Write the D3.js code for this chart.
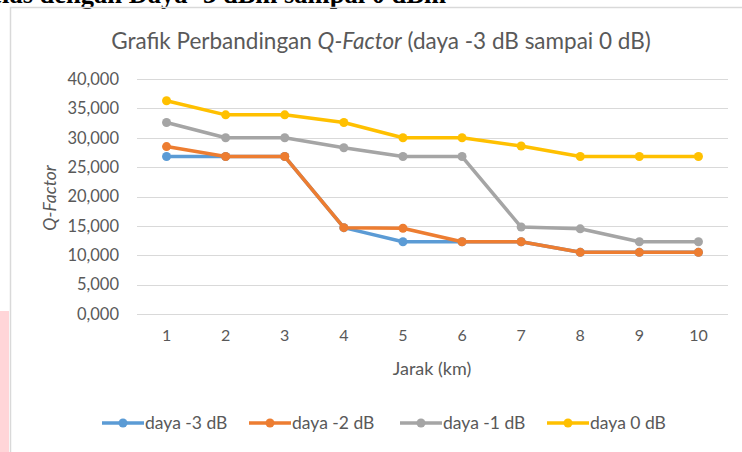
<!DOCTYPE html>
<html>
<head>
<meta charset="utf-8">
<script src="https://cdn.jsdelivr.net/npm/d3@7"></script>
<style>
  html, body { margin: 0; padding: 0; background: #fff; }
  svg { display: block; }
</style>
</head>
<body>
<div id="chart"></div>
<script>
// data
const jarak = [1, 2, 3, 4, 5, 6, 7, 8, 9, 10];
const seriesNames = ['daya -3 dB', 'daya -2 dB', 'daya -1 dB', 'daya 0 dB'];
const daya3 = [26.8, 26.8, 26.8, 14.7, 12.3, 12.3, 12.3, 10.5, 10.5, 10.5];
const daya2 = [28.5, 26.8, 26.8, 14.7, 14.6, 12.3, 12.3, 10.5, 10.5, 10.5];
const daya1 = [32.6, 30.0, 30.0, 28.3, 26.8, 26.8, 14.8, 14.5, 12.3, 12.3];
const daya0 = [36.3, 33.9, 33.9, 32.6, 30.0, 30.0, 28.6, 26.8, 26.8, 26.8];
const yTicks = [0, 5, 10, 15, 20, 25, 30, 35, 40];
const colors = ['#5B9BD5', '#ED7D31', '#A5A5A5', '#FFC000'];

const width = 742, height = 452;
const margin = { top: 79, right: 14, bottom: 138, left: 137 };
const font = 'Lato, "Open Sans", sans-serif';
const textColor = '#595959';

const svg = d3.select('#chart').append('svg')
  .attr('width', width)
  .attr('height', height);

// the cropped document heading above the chart
svg.append('text')
  .attr('x', 446)
  .attr('y', 3)
  .attr('text-anchor', 'end')
  .attr('font-family', '"Liberation Serif", serif')
  .attr('font-weight', 'bold')
  .attr('font-size', 26.5)
  .attr('fill', '#000')
  .text('Kelas dengan Daya -3 dBm sampai 0 dBm');

// pink strip at the page edge
svg.append('rect')
  .attr('x', 0).attr('y', 311)
  .attr('width', 9).attr('height', height - 311)
  .attr('fill', '#ffd5d8');

// chart area border
svg.append('path')
  .attr('d', `M10.5,${height}V7.5H${width}`)
  .attr('fill', 'none')
  .attr('stroke', '#d9d9d9')
  .attr('stroke-width', 1.5);

const x = d3.scaleBand()
  .domain(jarak)
  .range([margin.left, width - margin.right]);

const y = d3.scaleLinear()
  .domain([0, 40])
  .range([height - margin.bottom, margin.top]);

const locale = d3.formatLocale({ decimal: ',', thousands: '.', grouping: [3], currency: ['', ''] });
const fmt = locale.format('.3f');

// gridlines
svg.append('g')
  .selectAll('line')
  .data(yTicks)
  .join('line')
  .attr('x1', margin.left)
  .attr('x2', width - margin.right)
  .attr('y1', d => Math.round(y(d)) + 0.5)
  .attr('y2', d => Math.round(y(d)) + 0.5)
  .attr('stroke', '#d9d9d9')
  .attr('stroke-width', 1);

// y axis labels
const yAxis = svg.append('g')
  .attr('transform', `translate(${margin.left - 18},0)`)
  .call(d3.axisLeft(y).tickValues(yTicks).tickFormat(fmt).tickSize(0).tickPadding(0));
yAxis.select('.domain').remove();
yAxis.selectAll('text')
  .attr('font-family', font)
  .attr('font-size', 16.5)
  .attr('fill', textColor);

// x axis labels
const xAxis = svg.append('g')
  .attr('transform', `translate(0,${height - margin.bottom})`)
  .call(d3.axisBottom(x).tickSize(0).tickPadding(16));
xAxis.select('.domain').remove();
xAxis.selectAll('text')
  .attr('font-family', font)
  .attr('font-size', 16)
  .attr('fill', textColor);

// titles
svg.append('text')
  .attr('x', 381)
  .attr('y', 49)
  .attr('text-anchor', 'middle')
  .attr('font-family', font)
  .attr('font-size', 22.5)
  .attr('fill', textColor)
  .call(t => {
    t.append('tspan').text('Grafik Perbandingan ');
    t.append('tspan').attr('font-style', 'italic').text('Q-Factor');
    t.append('tspan').text(' (daya -3 dB sampai 0 dB)');
  });

svg.append('text')
  .attr('x', 432)
  .attr('y', 375)
  .attr('text-anchor', 'middle')
  .attr('font-family', font)
  .attr('font-size', 18)
  .attr('fill', textColor)
  .text('Jarak (km)');

svg.append('text')
  .attr('transform', 'translate(56,198) rotate(-90)')
  .attr('text-anchor', 'middle')
  .attr('font-family', font)
  .attr('font-style', 'italic')
  .attr('font-size', 17.5)
  .attr('fill', textColor)
  .text('Q-Factor');

// series
const series = [daya3, daya2, daya1, daya0].map((vals, i) => ({
  name: seriesNames[i],
  color: colors[i],
  values: vals.map((v, j) => ({ x: jarak[j], y: v }))
}));

const line = d3.line()
  .x(d => x(d.x) + x.bandwidth() / 2)
  .y(d => y(d.y));

const sg = svg.append('g')
  .selectAll('g')
  .data(series)
  .join('g');

sg.append('path')
  .attr('d', d => line(d.values))
  .attr('fill', 'none')
  .attr('stroke', d => d.color)
  .attr('stroke-width', 3.5)
  .attr('stroke-linejoin', 'round');

sg.selectAll('circle')
  .data(d => d.values.map(v => ({ ...v, color: d.color })))
  .join('circle')
  .attr('cx', d => x(d.x) + x.bandwidth() / 2)
  .attr('cy', d => y(d.y))
  .attr('r', 4.5)
  .attr('fill', d => d.color);

// legend
const legendX = [102, 249, 400, 547];
const lg = svg.append('g')
  .selectAll('g')
  .data(series)
  .join('g')
  .attr('transform', (d, i) => `translate(${legendX[i]},423)`);

lg.append('line')
  .attr('x1', 0).attr('x2', 42)
  .attr('stroke', d => d.color)
  .attr('stroke-width', 3.5);
lg.append('circle')
  .attr('cx', 21).attr('r', 4.5)
  .attr('fill', d => d.color);
lg.append('text')
  .attr('x', 43)
  .attr('dy', '0.35em')
  .attr('font-family', font)
  .attr('font-size', 17.5)
  .attr('fill', textColor)
  .text(d => d.name);
</script>
</body>
</html>
